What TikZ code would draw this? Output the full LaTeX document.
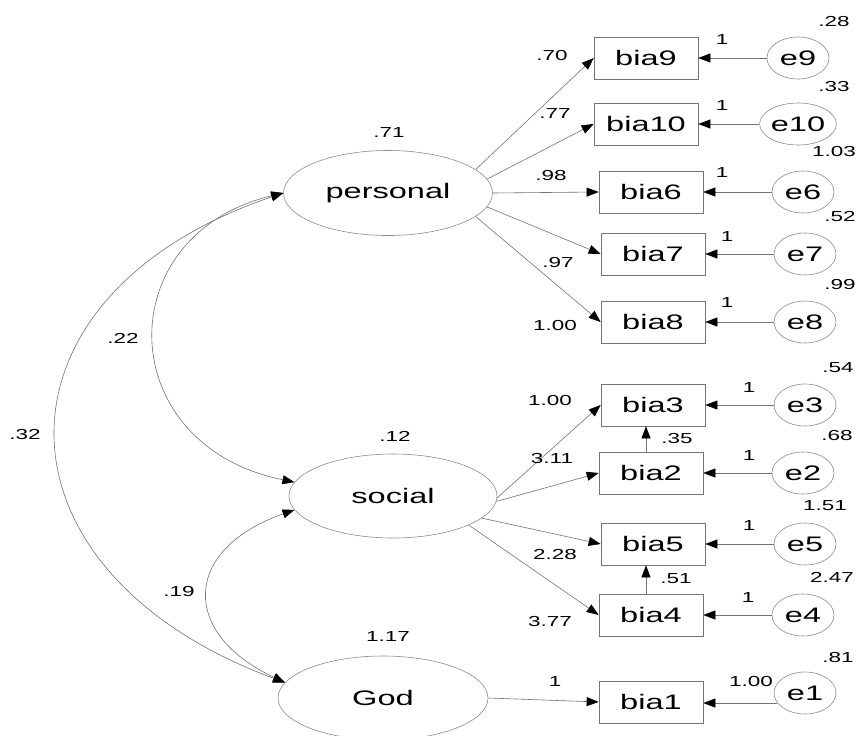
\documentclass[tikz,border=0pt]{standalone}
\usepackage{fontspec}
\setmainfont{Liberation Sans}[FakeStretch=1.55]
\usetikzlibrary{arrows.meta,shapes.geometric}
\begin{document}
\begin{tikzpicture}[x=1pt,y=-1pt,
  obs/.style={draw=black!55, line width=0.7pt, minimum width=104pt, minimum height=42pt, inner sep=0pt, font=\fontsize{21}{21}\selectfont},
  err/.style={ellipse, draw=black!45, line width=0.6pt, minimum width=62pt, minimum height=42pt, inner sep=0pt, font=\fontsize{21}{21}\selectfont},
  lat/.style={ellipse, draw=black!45, line width=0.6pt, minimum width=208pt, minimum height=85pt, inner sep=0pt, font=\fontsize{21}{21}\selectfont},
  lab/.style={inner sep=0pt, font=\fontsize{14.5}{14.5}\selectfont},
  arr/.style={draw=black!55, line width=0.6pt, -{Triangle[length=12pt,width=9pt,color=black]}},
  covarr/.style={draw=black!55, line width=0.6pt, {Triangle[length=12pt,width=9pt,color=black]}-{Triangle[length=12pt,width=9pt,color=black]}}
]
\useasboundingbox[fill=white] (0,0) rectangle (857,736);

% latent variables
\node[lat, minimum width=209pt] (personal) at (388,193) {personal};
\node[lat, minimum height=84pt] (social) at (393,496) {social};
\node[lat, minimum width=210pt, minimum height=84pt] (God) at (383,698) {God};

% observed
\node[obs] (bia9) at (646,58) {bia9};
\node[obs] (bia10) at (646,124) {bia10};
\node[obs] (bia6) at (651,192) {bia6};
\node[obs] (bia7) at (653,254) {bia7};
\node[obs] (bia8) at (653,322) {bia8};
\node[obs] (bia3) at (653,405) {bia3};
\node[obs] (bia2) at (651,473) {bia2};
\node[obs] (bia5) at (653,544) {bia5};
\node[obs] (bia4) at (651,615) {bia4};
\node[obs] (bia1) at (651,702) {bia1};

% errors
\node[err] (e9) at (798,58) {e9};
\node[err] (e10) at (798,124) {e10};
\node[err] (e6) at (803,192) {e6};
\node[err] (e7) at (805,254) {e7};
\node[err] (e8) at (805,322) {e8};
\node[err] (e3) at (805,405) {e3};
\node[err] (e2) at (803,473) {e2};
\node[err] (e5) at (805,544) {e5};
\node[err] (e4) at (803,615) {e4};
\node[err] (e1) at (805,693) {e1};

% loadings
\draw[arr] (personal.15) -- (bia9.west);
\draw[arr] (personal.8) -- (bia10.west);
\draw[arr] (personal.east) -- (bia6.west);
\draw[arr] (personal.-8) -- (bia7.west);
\draw[arr] (personal.-15) -- (bia8.west);
\draw[arr] (social.-1) -- (bia3.west);
\draw[arr] (social.-3) -- (bia2.west);
\draw[arr] (social.-14) -- (bia5.west);
\draw[arr] (social.-21) -- (bia4.west);
\draw[arr] (God.east) -- (bia1.west);

% error paths
\draw[arr] (e9) -- (bia9);
\draw[arr] (e10) -- (bia10);
\draw[arr] (e6) -- (bia6);
\draw[arr] (e7) -- (bia7);
\draw[arr] (e8) -- (bia8);
\draw[arr] (e3) -- (bia3);
\draw[arr] (e2) -- (bia2);
\draw[arr] (e5) -- (bia5);
\draw[arr] (e4) -- (bia4);
\draw[arr] (e1.200) -- (e1.200 -| bia1.east);

% between observed
\draw[arr] ([xshift=-5pt]bia2.north) -- ([xshift=-5pt]bia2.north |- bia3.south);
\draw[arr] ([xshift=-5pt]bia4.north) -- ([xshift=-5pt]bia4.north |- bia5.south);

% covariances
\draw[covarr] (personal.west) .. controls (108,235) and (112,445) .. (social.172);
\draw[covarr] (personal.west) .. controls (-19,295) and (-19,570) .. (God.171);
\draw[covarr] (social.188) .. controls (181,550) and (181,634) .. (God.171);

% labels
\node[lab] (v1) at (389,133) {.71};
\node[lab] (v2) at (395,436) {.12};
\node[lab] (v3) at (388,637) {1.17};
\node[lab] (c1) at (123,338) {.22};
\node[lab] (c2) at (25,435) {.32};
\node[lab] (c3) at (179,592) {.19};
\node[lab] (w1) at (552,56) {.70};
\node[lab] (w2) at (555,114) {.77};
\node[lab] (w3) at (551,176) {.98};
\node[lab] (w4) at (558,263) {.97};
\node[lab] (w5) at (555,326) {1.00};
\node[lab] (w6) at (550,401) {1.00};
\node[lab] (w7) at (552,459) {3.11};
\node[lab] (w8) at (555,555) {2.28};
\node[lab] (w9) at (550,622) {3.77};
\node[lab] (w10) at (555,682) {1};
\node[lab] (r1) at (834,22) {.28};
\node[lab] (r2) at (834,87) {.33};
\node[lab] (r3) at (834,152) {1.03};
\node[lab] (r4) at (840,217) {.52};
\node[lab] (r5) at (840,285) {.99};
\node[lab] (r6) at (838,368) {.54};
\node[lab] (r7) at (837,436) {.68};
\node[lab] (r8) at (825,506) {1.51};
\node[lab] (r9) at (832,577) {2.47};
\node[lab] (r10) at (838,658) {.81};
\node[lab] (k1) at (751,682) {1.00};
\node[lab] (k2) at (677,439) {.35};
\node[lab] (k3) at (676,579) {.51};
\node[lab] (o1) at (722,40) {1};
\node[lab] (o2) at (722,106) {1};
\node[lab] (o3) at (722,173) {1};
\node[lab] (o4) at (727,237) {1};
\node[lab] (o5) at (727,303) {1};
\node[lab] (o6) at (749,388) {1};
\node[lab] (o7) at (749,456) {1};
\node[lab] (o8) at (749,526) {1};
\node[lab] (o9) at (748,598) {1};
\end{tikzpicture}
\end{document}
